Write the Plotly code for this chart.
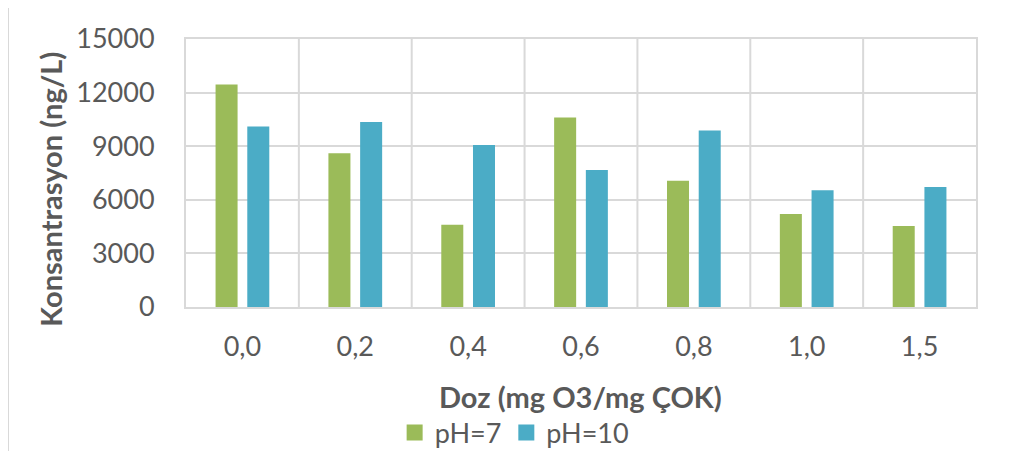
import plotly.graph_objects as go

categories = ["0,0", "0,2", "0,4", "0,6", "0,8", "1,0", "1,5"]
ph7 = [12450, 8600, 4600, 10600, 7070, 5200, 4530]
ph10 = [10100, 10350, 9070, 7670, 9880, 6530, 6720]
y_ticks = [0, 3000, 6000, 9000, 12000, 15000]

FONT = "Lato"
TXT = "#595959"
GRID = "#d9d9d9"
GREEN = "#9BBB59"
BLUE = "#4BACC6"

fig = go.Figure()
fig.add_trace(go.Bar(name="pH=7", x=categories, y=ph7, marker=dict(color=GREEN, line=dict(width=0)), showlegend=False))
fig.add_trace(go.Bar(name="pH=10", x=categories, y=ph10, marker=dict(color=BLUE, line=dict(width=0)), showlegend=False))
# legend entries with larger square swatches
fig.add_trace(go.Scatter(name="pH=7", x=[None], y=[None], mode="markers",
                         marker=dict(symbol="square", size=17, color=GREEN)))
fig.add_trace(go.Scatter(name="pH=10", x=[None], y=[None], mode="markers",
                         marker=dict(symbol="square", size=17, color=BLUE)))

fig.update_layout(
    width=1006, height=443,
    margin=dict(l=178, r=38, t=31, b=144, autoexpand=False),
    paper_bgcolor="white", plot_bgcolor="white",
    barmode="group", bargap=0.438, bargroupgap=0.306,
    font=dict(family=FONT, color=TXT, size=27),
    showlegend=True,
    legend=dict(orientation="h", x=0.416, xanchor="center", y=-0.47, yanchor="middle",
                font=dict(size=27, color=TXT), itemwidth=30, traceorder="normal"),
    xaxis=dict(
        showgrid=False, showline=True, linecolor=GRID, linewidth=2, mirror=True,
        ticks="", tickfont=dict(size=27, color=TXT), ticklabelstandoff=15,
    ),
    yaxis=dict(
        range=[0, 15000], tickvals=y_ticks, ticktext=[str(v) for v in y_ticks],
        showgrid=True, gridcolor=GRID, gridwidth=2,
        showline=True, linecolor=GRID, linewidth=2, mirror=True, zeroline=False,
        ticks="", tickfont=dict(size=27, color=TXT), ticklabelstandoff=24,
    ),
)

fig.add_annotation(text="<b>Konsantrasyon (ng/L)</b>", textangle=-90, xref="paper", yref="paper",
                   x=-0.172, y=0.438, xanchor="center", yanchor="middle", showarrow=False,
                   font=dict(size=29, color=TXT))
fig.add_annotation(text="<b>Doz (mg O3/mg ÇOK)</b>", xref="paper", yref="paper",
                   x=0.499, y=-0.335, xanchor="center", yanchor="middle", showarrow=False,
                   font=dict(size=29, color=TXT))

# vertical category separators
for i in range(1, len(categories)):
    fig.add_shape(type="line", xref="x", yref="paper", x0=i - 0.5, x1=i - 0.5, y0=0, y1=1,
                  line=dict(color=GRID, width=2), layer="below")

# outer chart frame (cropped at right and bottom)
fig.add_shape(type="rect", xref="paper", yref="paper", x0=-0.2253, x1=1.06, y0=-0.6, y1=1.1206,
              line=dict(color=GRID, width=2), fillcolor="rgba(0,0,0,0)")

fig.write_html("out.html")
